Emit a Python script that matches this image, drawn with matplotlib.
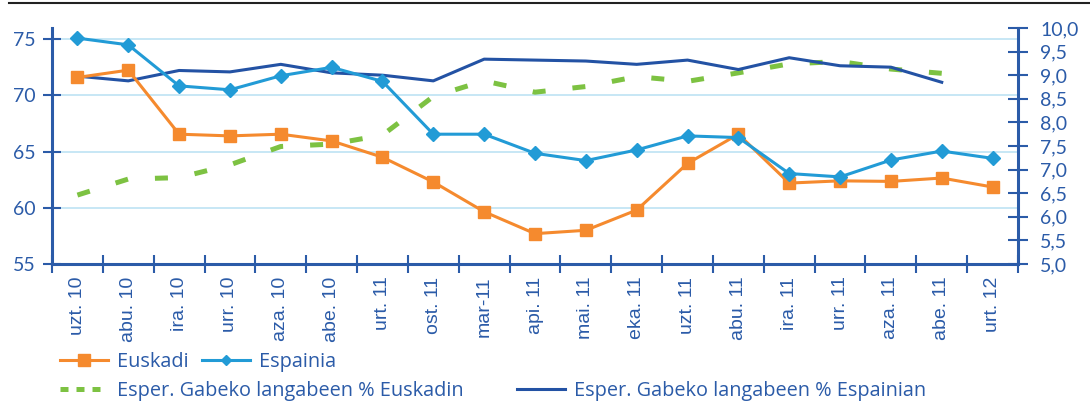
import matplotlib
matplotlib.use("Agg")
import matplotlib.pyplot as plt
from matplotlib.lines import Line2D
from matplotlib.ticker import FixedLocator, FuncFormatter
import numpy as np

categories = ["uzt. 10", "abu. 10", "ira. 10", "urr. 10", "aza. 10", "abe. 10",
              "urt. 11", "ost. 11", "mar-11", "api. 11", "mai. 11", "eka. 11",
              "uzt. 11", "abu. 11", "ira. 11", "urr. 11", "aza. 11", "abe. 11",
              "urt. 12"]

euskadi = [71.6, 72.25, 66.55, 66.4, 66.55, 65.95, 64.5, 62.3, 59.65, 57.7,
           58.0, 59.8, 63.95, 66.55, 62.2, 62.4, 62.35, 62.65, 61.85]
espainia = [75.1, 74.5, 70.85, 70.5, 71.75, 72.5, 71.25, 66.55, 66.55, 64.85,
            64.2, 65.15, 66.4, 66.25, 63.05, 62.75, 64.25, 65.05, 64.4]

# right axis (%), available until abe.11
langabe_euskadi = [6.46, 6.80, 6.83, 7.10, 7.49, 7.54, 7.73, 8.55, 8.88, 8.64,
                   8.76, 8.97, 8.87, 9.05, 9.24, 9.29, 9.13, 9.04]
langabe_espainia = [8.98, 8.88, 9.10, 9.07, 9.23, 9.05, 9.00, 8.88, 9.34, 9.32,
                    9.30, 9.23, 9.32, 9.12, 9.37, 9.20, 9.17, 8.85]

left_ticks = [55, 60, 65, 70, 75]
right_ticks = [5.0, 5.5, 6.0, 6.5, 7.0, 7.5, 8.0, 8.5, 9.0, 9.5, 10.0]

legend_labels = ["Euskadi", "Espainia",
                 "Esper. Gabeko langabeen % Euskadin",
                 "Esper. Gabeko langabeen % Espainian"]

C_OR = "#F58A2E"
C_LB = "#229BD6"
C_DB = "#2352A4"
C_GR = "#7DC242"
C_AX = "#2B5BA8"
C_GRID = "#BDE3F4"
C_TXT = "#2B5BA8"

fig = plt.figure(figsize=(10.9, 4.09), dpi=100)
ax = fig.add_axes([52/1090, 1-264/409, (1018-52)/1090, (264-28)/409])
ax2 = ax.twinx()

x = np.arange(len(categories))
xr = np.arange(len(langabe_euskadi))

ax.set_xlim(-0.5, len(categories) - 0.5)
ax.set_ylim(55, 76)
ax2.set_ylim(5, 10)

for v in left_ticks[1:]:
    ax2.axhline(5 + (v - 55) * 5 / 21, color=C_GRID, lw=1.2, zorder=0)

ax2.plot(xr, langabe_euskadi, color=C_GR, lw=3.6, dashes=(2.6, 5.4), zorder=2)
ax2.plot(xr, langabe_espainia, color=C_DB, lw=2.2, zorder=2)
ax.plot(x, euskadi, color=C_OR, lw=2.2, marker="s", ms=9, zorder=3)
ax.plot(x, espainia, color=C_LB, lw=2.2, marker="D", ms=7, zorder=4)
ax.set_zorder(ax2.get_zorder() + 1)
ax.patch.set_visible(False)

for a in (ax, ax2):
    for s in a.spines.values():
        s.set_visible(False)

ax.spines["left"].set_visible(True)
ax.spines["bottom"].set_visible(True)
ax2.spines["right"].set_visible(True)
for s in (ax.spines["left"], ax.spines["bottom"], ax2.spines["right"]):
    s.set_color(C_AX)
    s.set_linewidth(2.2)

ax.yaxis.set_major_locator(FixedLocator(left_ticks))
ax.tick_params(axis="y", direction="inout", length=13, width=1.5, color=C_AX,
               labelcolor=C_TXT, labelsize=14, pad=5)
ax2.yaxis.set_major_locator(FixedLocator(right_ticks))
ax2.yaxis.set_major_formatter(FuncFormatter(lambda v, p: f"{v:.1f}".replace(".", ",")))
ax2.tick_params(axis="y", direction="inout", length=14, width=1.5, color=C_AX,
                labelcolor=C_TXT, labelsize=14, pad=9)

ax.set_xticks(x)
ax.set_xticklabels(categories, rotation=90, fontsize=14, color=C_TXT,
                   family="Liberation Sans")
ax.tick_params(axis="x", which="major", length=0, pad=9)
ax.set_xticks(np.arange(-0.5, len(categories) + 0.5, 1), minor=True)
ax.tick_params(axis="x", which="minor", direction="inout", length=13, width=1.5,
               color=C_AX)

for lab in ax.get_yticklabels() + ax2.get_yticklabels():
    lab.set_family("Lato")

# legend entries
handles = [
    Line2D([], [], color=C_OR, lw=2.2, marker="s", ms=8),
    Line2D([], [], color=C_LB, lw=2.2, marker="D", ms=5),
    Line2D([], [], color=C_GR, lw=3.6, dashes=(1.6, 1.6)),
    Line2D([], [], color=C_DB, lw=2.2),
]
pos = [(60, 362), (202, 362), (60, 391), (517, 391)]
for h, lab, (px, py) in zip(handles, legend_labels, pos):
    leg = fig.legend([h], [lab], loc="center left",
                     bbox_to_anchor=(px/1090, 1-py/409), frameon=False,
                     borderaxespad=0, borderpad=0, handlelength=2.4,
                     handletextpad=0.45,
                     prop={"family": "Open Sans", "size": 14.3})
    for t in leg.get_texts():
        t.set_color(C_TXT)

fig.add_artist(Line2D([9/1090, 1], [1-2.5/409, 1-2.5/409], color="#222222", lw=1.5))

fig.savefig("out.png", dpi=100)
